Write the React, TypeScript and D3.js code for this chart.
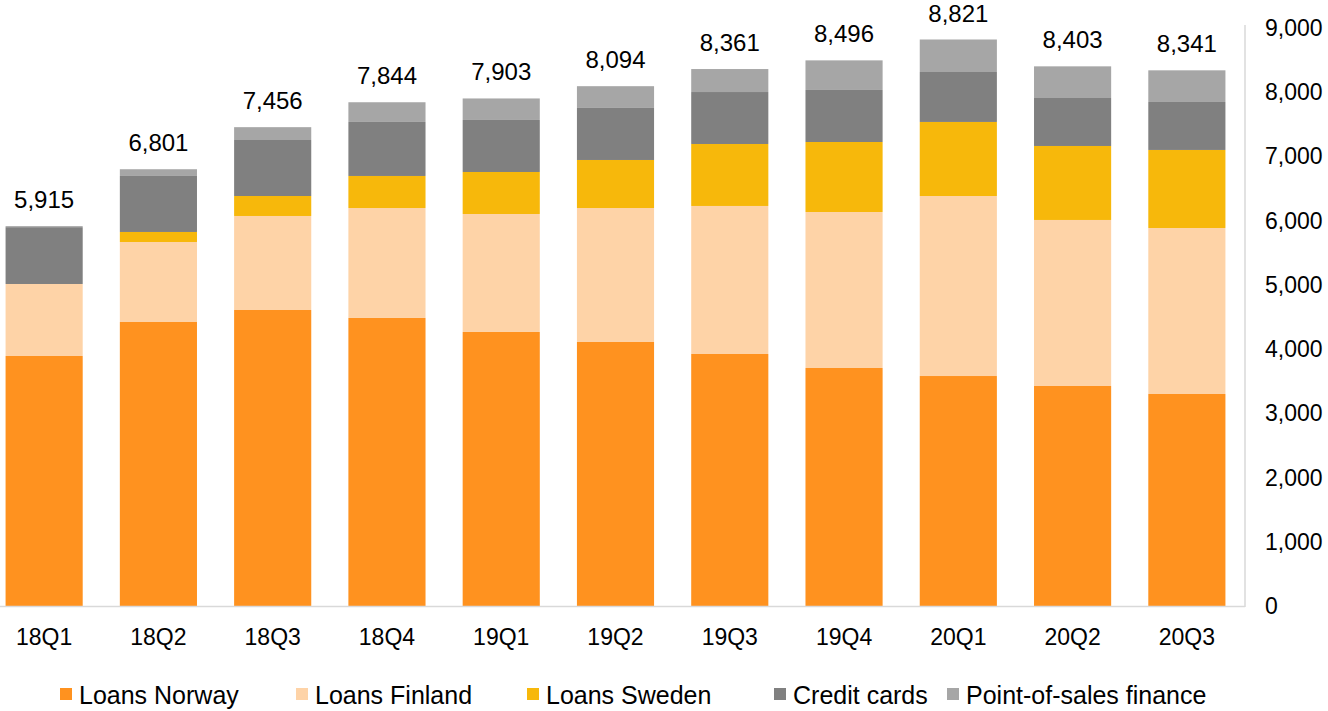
import * as d3 from 'd3';
import React from 'react';

const quarters = ['18Q1', '18Q2', '18Q3', '18Q4', '19Q1', '19Q2', '19Q3', '19Q4', '20Q1', '20Q2', '20Q3'];
const loansNorway = [3893, 4422, 4609, 4485, 4267, 4111, 3924, 3706, 3581, 3426, 3301];
const loansFinland = [1121, 1246, 1464, 1712, 1837, 2086, 2305, 2429, 2803, 2585, 2585];
const loansSweden = [0, 156, 311, 499, 654, 748, 965, 1090, 1153, 1152, 1215];
const creditCards = [885, 872, 872, 841, 810, 810, 809, 810, 778, 747, 747];
const posFinance = [16, 105, 200, 307, 335, 339, 358, 461, 506, 493, 493];
const totals = [5915, 6801, 7456, 7844, 7903, 8094, 8361, 8496, 8821, 8403, 8341];
const yTicks = [0, 1000, 2000, 3000, 4000, 5000, 6000, 7000, 8000, 9000];

const seriesNames = ['Loans Norway', 'Loans Finland', 'Loans Sweden', 'Credit cards', 'Point-of-sales finance'];
const colors = ['#FF921F', '#FED3A7', '#F7B80B', '#808080', '#A6A6A6'];
const legendX = [60, 296, 527, 774, 947];

const W = 1328;
const H = 711;
const FONT = 'Arial, "Liberation Sans", sans-serif';

export default function App() {
	const rows = quarters.map((q, i) => ({
		q,
		s0: loansNorway[i],
		s1: loansFinland[i],
		s2: loansSweden[i],
		s3: creditCards[i],
		s4: posFinance[i],
	}));
	const stacked = d3.stack<any>().keys(['s0', 's1', 's2', 's3', 's4'])(rows);

	const x = d3.scaleBand()
		.domain(quarters)
		.range([-13, 1244])
		.paddingInner(0.325)
		.paddingOuter(0.1625);
	const y = d3.scaleLinear().domain([0, 9000]).range([606, 28]);
	const fmt = d3.format(',');
	const axisX = 1245;

	return (
		<div style={{ position: 'absolute', left: 0, top: 0 }}>
			<svg width={W} height={H} style={{ display: 'block', fontFamily: FONT }}>
				<rect width={W} height={H} fill="#fff" />
				{stacked.map((layer, li) => (
					<g key={li} fill={colors[li]}>
						{layer.map((d, i) => (
							<rect
								key={i}
								x={x(quarters[i])}
								y={y(d[1])}
								width={x.bandwidth()}
								height={Math.max(0, y(d[0]) - y(d[1]))}
							/>
						))}
					</g>
				))}
				<line x1={0} x2={axisX} y1={y(0) + 0.5} y2={y(0) + 0.5} stroke="#d9d9d9" strokeWidth={1.5} />
				<line x1={axisX} x2={axisX} y1={y(9000) - 3} y2={y(0) + 1} stroke="#d9d9d9" strokeWidth={1.5} />
				{yTicks.map((t) => (
					<text key={t} x={axisX + 20} y={y(t)} dy="0.35em" fontSize={23} fill="#000">
						{fmt(t)}
					</text>
				))}
				{quarters.map((q, i) => (
					<text
						key={q}
						x={x(q) + x.bandwidth() / 2}
						y={645}
						textAnchor="middle"
						fontSize={23}
						fill="#000"
					>
						{q}
					</text>
				))}
				{totals.map((t, i) => (
					<text
						key={i}
						x={x(quarters[i]) + x.bandwidth() / 2}
						y={y(t) - 18}
						textAnchor="middle"
						fontSize={24}
						fill="#000"
					>
						{fmt(t)}
					</text>
				))}
				{seriesNames.map((name, i) => (
					<g key={name} transform={`translate(${legendX[i]},0)`}>
						<rect x={0} y={688} width={12} height={12} fill={colors[i]} />
						<text x={19} y={704} fontSize={25} fill="#000">{name}</text>
					</g>
				))}
			</svg>
		</div>
	);
}
